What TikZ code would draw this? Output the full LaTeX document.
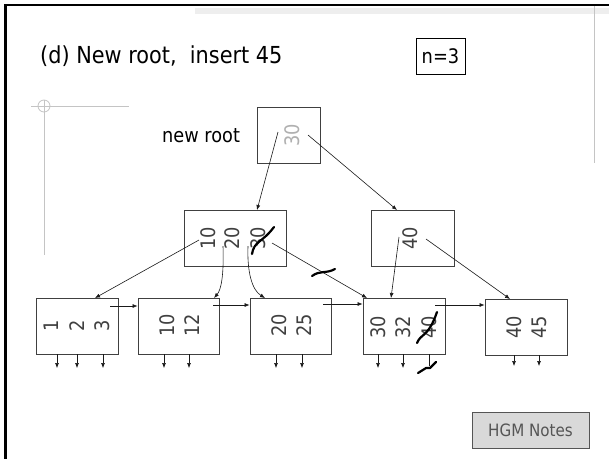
\documentclass[tikz,border=0pt]{standalone}
\usepackage{fontspec}
\setmainfont{DejaVu Sans}[FakeStretch=0.89]
\usetikzlibrary{arrows.meta}
\definecolor{boxc}{HTML}{404040}
\definecolor{keyc}{HTML}{404040}
\definecolor{rootc}{HTML}{B0B0B0}
\definecolor{guidec}{HTML}{C4C4C4}
\definecolor{hatchc}{HTML}{EEEEEE}
\definecolor{hgmfill}{HTML}{D9D9D9}
\definecolor{hgmborder}{HTML}{555555}
\definecolor{hgmtext}{HTML}{555555}
\definecolor{ptrc}{HTML}{1A1A1A}
\begin{document}
\begin{tikzpicture}[x=1pt,y=-1pt,
 box/.style={draw=boxc, line width=0.9pt, minimum height=56pt, inner sep=0pt},
 key/.style={rotate=90, inner sep=0pt, text=keyc, font=\fontsize{20}{20}\selectfont},
 ptr/.style={-{Latex[length=5pt,width=4pt]}, line width=0.6pt, draw=ptrc},
 strike/.style={line width=2.2pt, line cap=round, line join=round},
 guide/.style={draw=guidec, line width=1pt}]
\useasboundingbox (0,0) rectangle (609,459);
\fill[white] (0,0) rectangle (609,459);
% slide frame
\fill[hatchc] (195,8) rectangle (609,14);
\draw[guide] (594,5) -- (594,163);
\draw[line width=2pt] (4,5) -- (609,5);
\draw[line width=3pt] (5,4) -- (5,459);
% guide crosshair
\draw[guide] (31,106) -- (129,106);
\draw[guide] (44,100) -- (44,255);
\draw[guide, line width=0.8pt] (44,106) circle (6);
% texts
\node[anchor=base west, inner sep=0pt, font=\fontsize{23.4}{28}\selectfont] (title) at (40,63) {(d) New root,\ \ insert 45};
\node[draw, line width=1pt, minimum width=49pt, minimum height=36pt, inner sep=0pt, font=\fontsize{20}{20}\selectfont] (n3) at (440.5,56) {n=3};
\node[anchor=base west, inner sep=0pt, font=\fontsize{19.9}{20}\selectfont] (nr) at (162,142) {new root};
\node[draw=hgmborder, fill=hgmfill, line width=1pt, minimum width=117pt, minimum height=36pt, inner sep=0pt, text=hgmtext, font=\fontsize{17}{17}\selectfont] (hgm) at (530.5,430) {HGM Notes};
% boxes
\node[box, minimum width=63pt] (root) at (288.5,135) {};
\node[box, minimum width=102pt] (I1) at (235,238) {};
\node[box, minimum width=83pt] (I2) at (412.5,238) {};
\node[box, minimum width=82pt] (L1) at (77,326) {};
\node[box, minimum width=81pt] (L2) at (178.5,326) {};
\node[box, minimum width=81pt] (L3) at (290.5,326) {};
\node[box, minimum width=82pt] (L4) at (404,326) {};
\node[box, minimum width=82pt] (L5) at (526,327) {};
% keys
\node[key, text=rootc] (r30) at (292,135) {30};
\node[key] (a10) at (208,238) {10};
\node[key] (a20) at (232,238) {20};
\node[key] (a30) at (258,238) {30};
\node[key] (b40) at (410,238) {40};
\node[key] (k1) at (51,326) {1};
\node[key] (k2) at (77,326) {2};
\node[key] (k3) at (102,326) {3};
\node[key] (k10) at (167.5,325) {10};
\node[key] (k12) at (192.5,325) {12};
\node[key] (k20) at (279,325) {20};
\node[key] (k25) at (304,325) {25};
\node[key] (k30) at (378,327) {30};
\node[key] (k32) at (403,327) {32};
\node[key] (k40) at (429,327) {40};
\node[key] (m40) at (514,327) {40};
\node[key] (m45) at (539,327) {45};
% pointer coordinates
\coordinate (rs1) at (278,132);  \coordinate (rt1) at (257,210);
\coordinate (rs2) at (308,135);  \coordinate (rt2) at (397,210);
\coordinate (as1) at (199,240);  \coordinate (at1) at (95,298);
\coordinate (as2) at (223,246);  \coordinate (at2) at (214,298);
\coordinate (as3) at (248,246);  \coordinate (at3) at (265,298);
\coordinate (as4) at (272,243);  \coordinate (at4) at (367,298);
\coordinate (bs1) at (399,237);  \coordinate (bt1) at (391,298);
\coordinate (bs2) at (426,239);  \coordinate (bt2) at (510,299);
\coordinate (n1) at (110,306); \coordinate (n2) at (213,305);
\coordinate (n3s) at (323,304); \coordinate (n4) at (435,305);
% tree pointers
\draw[ptr] (rs1) -- (rt1);
\draw[ptr] (rs2) -- (rt2);
\draw[ptr] (as1) -- (at1);
\draw[ptr] (as2) .. controls (224,276) and (221,290) .. (at2);
\draw[ptr] (as3) .. controls (247,272) and (252,290) .. (at3);
\draw[ptr] (as4) -- (at4);
\draw[ptr] (bs1) -- (bt1);
\draw[ptr] (bs2) -- (bt2);
% sequence pointers
\draw[ptr] (n1) -- (n1 -| L2.west);
\draw[ptr] (n2) -- (n2 -| L3.west);
\draw[ptr] (n3s) -- (n3s -| L4.west);
\draw[ptr] (n4) -- (n4 -| L5.west);
% record pointers
\foreach \xx in {57,77,103} \draw[ptr] (\xx,354) -- (\xx,368);
\foreach \xx in {164,189} \draw[ptr] (\xx,354) -- (\xx,368);
\foreach \xx in {276,302} \draw[ptr] (\xx,354) -- (\xx,368);
\foreach \xx in {378,403} \draw[ptr] (\xx,354) -- (\xx,368);
\draw[line width=0.6pt, draw=ptrc] (429,354) -- (429,366);
\foreach \xx in {514,539} \draw[ptr] (\xx,355) -- (\xx,366);
% strike marks
\draw[strike] (252,254) .. controls (254,241) and (262,243) .. (274,227);
\draw[strike] (312,276) .. controls (320,270) and (326,274) .. (335,269);
\draw[strike] (417,343) .. controls (421,333) and (428,338) .. (437,312);
\draw[strike] (418,373) -- (426,368) -- (430,368) -- (436,362);
\end{tikzpicture}
\end{document}
